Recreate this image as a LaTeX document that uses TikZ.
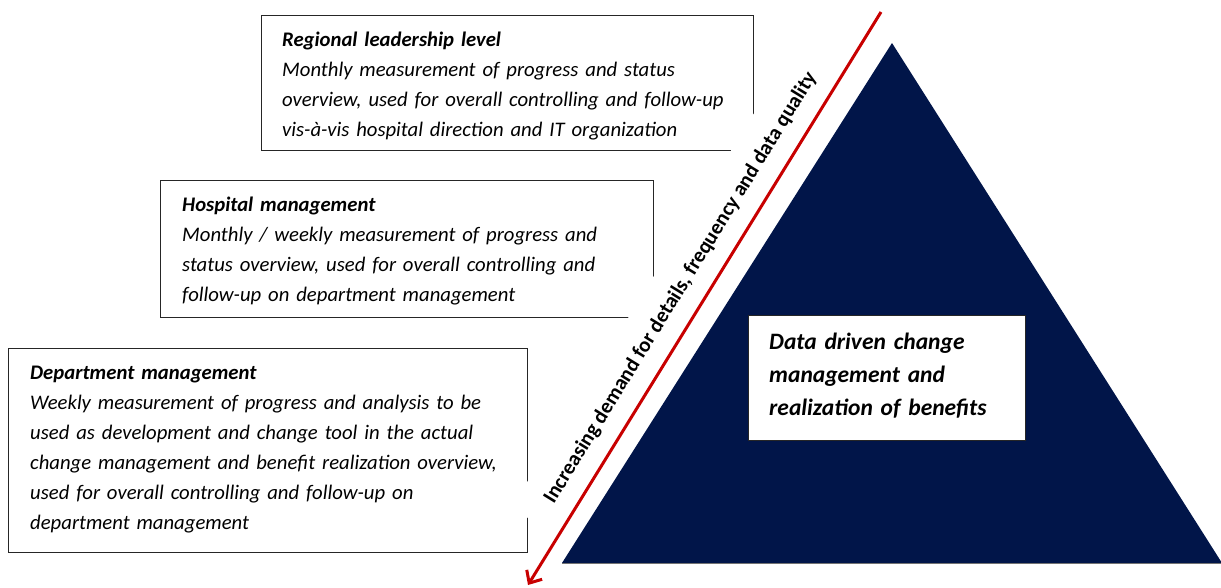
\documentclass[tikz,border=0pt]{standalone}
\usepackage{fontspec}
\setmainfont{Carlito}
\usetikzlibrary{arrows.meta,calc}
\definecolor{navyfill}{RGB}{1,21,73}
\definecolor{arrowred}{RGB}{200,0,0}
\begin{document}
\begin{tikzpicture}[x=1pt,y=1pt,
  lvlbox/.style={draw=black!85, line width=0.9pt, fill=white, inner sep=0pt, anchor=north west},
  lvltext/.style={anchor=north west, inner sep=0pt, align=left, text width=#1,
    font=\fontsize{20.7}{30}\selectfont\itshape},
  coretext/.style={anchor=north west, inner sep=0pt, align=left, text width=250pt,
    font=\fontsize{23.5}{33}\selectfont\bfseries\itshape},
  bandtext/.style={rotate=58.4, fill=white, inner sep=0pt, minimum width=552pt,
    minimum height=58pt, font=\fontsize{21}{25}\selectfont\bfseries},
  redarrow/.style={draw=arrowred, line width=3pt,
    -{Straight Barb[length=10pt,width=18pt,line width=3pt]}}
]
\useasboundingbox (0,0) rectangle (1221,-587);

% level boxes
\node[lvlbox, minimum width=492pt, minimum height=135pt] (b1) at (261,-15) {};
\node[lvlbox, minimum width=493pt, minimum height=137pt] (b2) at (160,-180) {};
\node[lvlbox, minimum width=519pt, minimum height=204pt] (b3) at (8,-348) {};

\node[lvltext=462pt] (t1) at (282,-25) {\strut\textbf{Regional leadership level}\\
Monthly measurement of progress and status\\
overview, used for overall controlling and follow-up\\
vis-à-vis hospital direction and IT organization};

\node[lvltext=440pt] (t2) at (182,-190) {\strut\textbf{Hospital management}\\
Monthly / weekly measurement of progress and\\
status overview, used for overall controlling and\\
follow-up on department management};

\node[lvltext=492pt] (t3) at (30,-358) {\strut\textbf{Department management}\\
Weekly measurement of progress and analysis to be\\
used as development and change tool in the actual\\
change management and benefit realization overview,\\
used for overall controlling and follow-up on\\
department management};

% pyramid
\coordinate (apex) at (892,-43);
\coordinate (baseL) at (562,-563);
\coordinate (baseR) at (1222,-563);
\fill[navyfill] (apex) -- (baseL) -- (baseR) -- cycle;
\draw[black!55, line width=1pt] (baseL) -- (baseR);

\node[lvlbox, minimum width=277pt, minimum height=125pt] (b4) at (748,-315) {};
\node[coretext] (t4) at (769,-325.9) {\strut Data driven change\\
management and\\
realization of benefits};

% rotated label with white band
\node[bandtext] (band) at (680.6,-287.9) {Increasing demand for details, frequency and data quality};

% arrow
\coordinate (atop) at (881,-12);
\coordinate (atip) at (528,-585);
\draw[redarrow] (atop) -- (atip);
\end{tikzpicture}
\end{document}
